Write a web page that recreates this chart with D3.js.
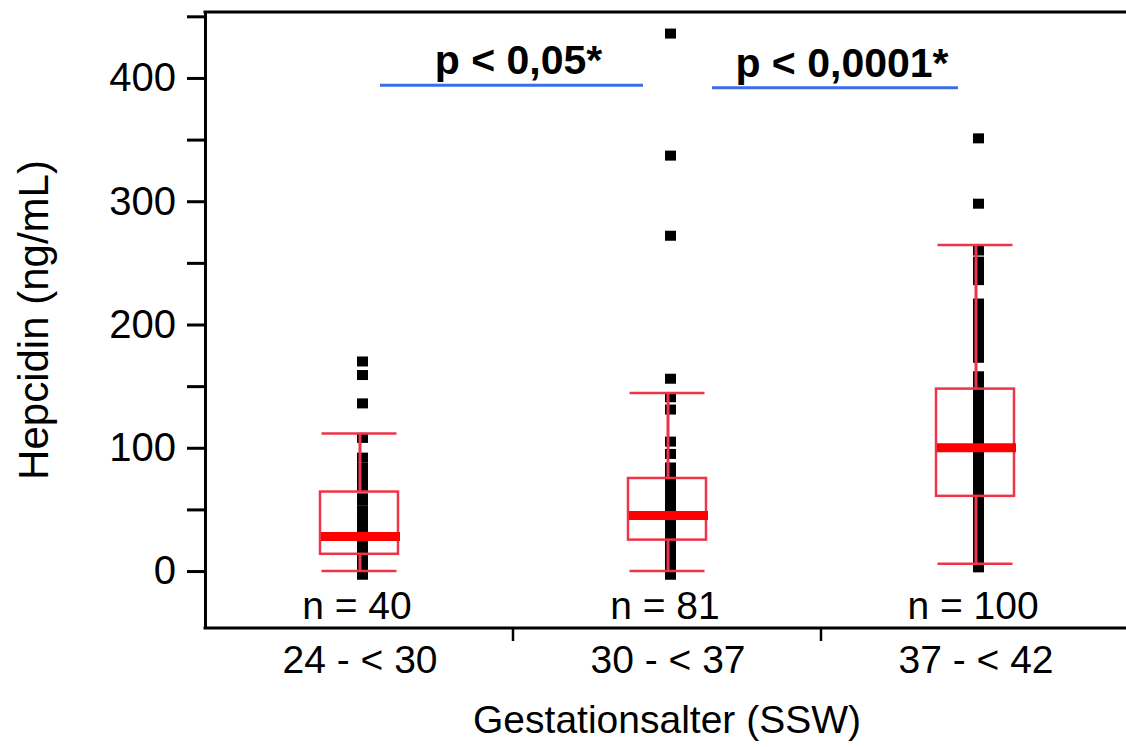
<!DOCTYPE html>
<html>
<head>
<meta charset="utf-8">
<script src="https://cdn.jsdelivr.net/npm/d3@7"></script>
<style>
  body { margin: 0; background: #fff; }
  svg { display: block; font-family: "Liberation Sans", Arial, sans-serif; }
</style>
</head>
<body>
<svg id="chart"></svg>
<script>
const WIDTH = 1126
const HEIGHT = 747
const PLOT = {left: 205, right: 1129, top: 12, bottom: 628}

// groups (gestational age, weeks) and sample sizes
const groups = ["24 - < 30", "30 - < 37", "37 - < 42"]
const counts = [40, 81, 100]

// box statistics per group (ng/mL)
const whiskerLow = [0, 0, 6]
const q1 = [14, 25.5, 61]
const medians = [28, 45, 100]
const q3 = [64.5, 75.5, 148]
const whiskerHigh = [111.5, 144.5, 264.5]

// individual hepcidin values
const points1 = [170, 159, 136, 108, 92, 84, 80, 76, 72, 69, 59, 57, 49, 47, 44, 41,
  38, 35, 32, 30, 29, 27, 26, 25, 23, 22, 21, 19, 17, 15, 13, 12, 11, 9, 7, 5, 3, 1, -1, -3]
const points2 = [436, 337, 272, 156, 141, 131, 105, 95,
  84, 81, 78, 76, 74, 72, 70, 68, 66, 64, 62, 60, 58, 57, 55, 54, 52, 51,
  50, 49, 48, 47, 46, 45, 44, 43, 42, 41, 40, 39, 38, 37, 36, 35, 34, 33, 32, 31,
  30, 29, 28, 27, 26, 25, 24, 23, 22, 21, 20, 19, 18, 17, 16, 15, 14, 13, 12, 11,
  10, 9, 8, 7, 6, 5, 4, 3, 2, 1, 0, -1, -2, -3, 30.5]
const points3 = [351, 298, 260, 251, 245, 240, 236,
  217, 212, 207, 202, 197, 192, 187, 182, 177, 173,
  158, 155, 152, 149, 146, 143, 140, 137, 134, 131, 128, 125, 122, 119, 116, 113, 110,
  108, 106, 104, 102, 101, 100, 99, 98, 97, 96, 95,
  93, 91, 89, 87, 85, 83, 81, 79, 77, 75, 73, 71, 69, 67, 65, 63, 61, 59, 57, 55,
  53, 51, 49, 47, 45, 43, 41, 39, 37, 35, 33, 31, 29, 27, 25, 23, 21, 19, 17, 15,
  13, 11, 9, 7, 5, 3, 120, 90, 80, 70, 60, 50, 40, 30, 20]
const groupPoints = [points1, points2, points3]

const yTicks = [0, 50, 100, 150, 200, 250, 300, 350, 400, 450]

// significance brackets between neighbouring groups
const comparisons = [
  {from: 0, to: 1, value: 394, label: "p < 0,05*"},
  {from: 1, to: 2, value: 392, label: "p < 0,0001*"},
]

const svg = d3.select("#chart").attr("width", WIDTH).attr("height", HEIGHT)

const x = d3.scaleBand().domain(groups).range([PLOT.left, PLOT.right])
const y = d3.scaleLinear().domain([-46.2, 453.5]).range([PLOT.bottom, PLOT.top])
const center = (i) => x(groups[i]) + x.bandwidth() / 2

// Y axis
const yAxis = svg
  .append("g")
  .attr("transform", `translate(${PLOT.left},0)`)
  .call(
    d3
      .axisLeft(y)
      .tickValues(yTicks)
      .tickSize(18)
      .tickSizeOuter(0)
      .tickPadding(11)
      .tickFormat((d) => (d % 100 === 0 ? d : ""))
  )
yAxis.select(".domain").attr("stroke-width", 3)
yAxis.selectAll(".tick line").attr("stroke-width", 3)
yAxis.selectAll(".tick text").attr("font-size", 40).attr("font-family", "Liberation Sans, Arial, sans-serif")

// frame top + bottom (x axis line)
svg.append("line")
  .attr("x1", PLOT.left - 1.5).attr("x2", WIDTH)
  .attr("y1", PLOT.top).attr("y2", PLOT.top)
  .attr("stroke", "#000").attr("stroke-width", 3)
svg.append("line")
  .attr("x1", PLOT.left - 1.5).attr("x2", WIDTH)
  .attr("y1", PLOT.bottom).attr("y2", PLOT.bottom)
  .attr("stroke", "#000").attr("stroke-width", 3)

// x ticks between groups
svg.selectAll(".xsep")
  .data(groups.slice(1))
  .enter()
  .append("line")
  .attr("class", "xsep")
  .attr("x1", (d) => x(d)).attr("x2", (d) => x(d))
  .attr("y1", PLOT.bottom).attr("y2", PLOT.bottom + 13)
  .attr("stroke", "#000").attr("stroke-width", 2.5)

svg.selectAll(".xlabel")
  .data(groups)
  .enter()
  .append("text")
  .attr("class", "xlabel")
  .attr("x", (d, i) => center(i) + 1)
  .attr("y", 673)
  .attr("text-anchor", "middle")
  .attr("font-size", 39)
  .text((d) => d)

svg.selectAll(".nlabel")
  .data(counts)
  .enter()
  .append("text")
  .attr("class", "nlabel")
  .attr("x", (d, i) => center(i) - 2)
  .attr("y", 619)
  .attr("text-anchor", "middle")
  .attr("font-size", 39)
  .text((d) => `n = ${d}`)

// axis titles
svg.append("text")
  .attr("x", center(1))
  .attr("y", 733)
  .attr("text-anchor", "middle")
  .attr("font-size", 39)
  .text("Gestationsalter (SSW)")
svg.append("text")
  .attr("transform", `translate(48,${(PLOT.top + PLOT.bottom) / 2}) rotate(-90)`)
  .attr("text-anchor", "middle")
  .attr("font-size", 42)
  .text("Hepcidin (ng/mL)")

// points (drawn under the boxes)
const PT = 10
groupPoints.forEach((pts, i) => {
  svg.append("g")
    .selectAll("rect")
    .data(pts)
    .enter()
    .append("rect")
    .attr("x", center(i) + 3 - PT / 2)
    .attr("y", (d) => y(d) - PT / 2)
    .attr("width", PT + 1)
    .attr("height", PT)
    .attr("fill", "#000")
})

// boxes
const BOX_COLOR = "#ee3448"
const boxW = 78
const capW = 75
groups.forEach((g, i) => {
  const c = center(i)
  const grp = svg.append("g")
  grp.append("line")
    .attr("x1", c + 1).attr("x2", c + 1)
    .attr("y1", y(whiskerHigh[i])).attr("y2", y(q3[i]))
    .attr("stroke", BOX_COLOR).attr("stroke-width", 3)
  grp.append("line")
    .attr("x1", c + 1).attr("x2", c + 1)
    .attr("y1", y(q1[i])).attr("y2", y(whiskerLow[i]))
    .attr("stroke", BOX_COLOR).attr("stroke-width", 3)
  ;[whiskerHigh[i], whiskerLow[i]].forEach((v) => {
    grp.append("line")
      .attr("x1", c - capW / 2).attr("x2", c + capW / 2)
      .attr("y1", y(v)).attr("y2", y(v))
      .attr("stroke", BOX_COLOR).attr("stroke-width", 2.5)
  })
  grp.append("rect")
    .attr("x", c - boxW / 2)
    .attr("y", y(q3[i]))
    .attr("width", boxW)
    .attr("height", y(q1[i]) - y(q3[i]))
    .attr("fill", "none")
    .attr("stroke", BOX_COLOR)
    .attr("stroke-width", 2.5)
  grp.append("line")
    .attr("x1", c - boxW / 2 + 1).attr("x2", c + boxW / 2 + 2)
    .attr("y1", y(medians[i])).attr("y2", y(medians[i]))
    .attr("stroke", "#ff0000").attr("stroke-width", 9)
})

// significance annotations
const BLUE = "#3a6ee8"
comparisons.forEach((cmp, k) => {
  const x1 = k === 0 ? center(cmp.from) + 21 : center(cmp.from) + 45
  const x2 = k === 0 ? center(cmp.to) - 24 : center(cmp.to) - 17
  svg.append("line")
    .attr("x1", x1).attr("x2", x2)
    .attr("y1", y(cmp.value)).attr("y2", y(cmp.value))
    .attr("stroke", BLUE).attr("stroke-width", 3)
  svg.append("text")
    .attr("x", (x1 + x2) / 2 + 7)
    .attr("y", y(cmp.value) - 11)
    .attr("text-anchor", "middle")
    .attr("font-size", 41)
    .attr("font-weight", "bold")
    .text(cmp.label)
})
</script>
</body>
</html>
